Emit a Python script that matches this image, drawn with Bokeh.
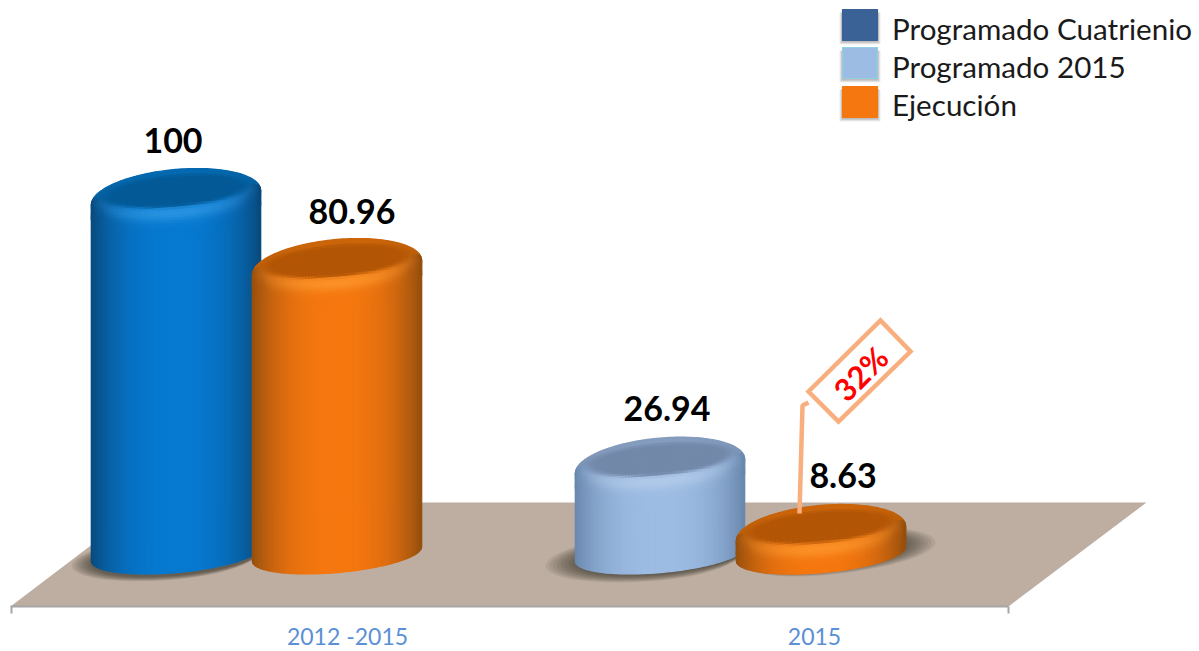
import math
from bokeh.plotting import figure
from bokeh.embed import file_html
from bokeh.resources import INLINE
from bokeh.core.properties import value
from bokeh.models import (Range1d, FixedTicker, LinearAxis, Legend, LegendItem,
                          ColumnDataSource)

# ---------- data ----------
categories = ["2012 -2015", "2015"]
series_names = ["Programado Cuatrienio", "Programado 2015", "Ejecución"]
programado_cuatrienio = [100, None]
programado_2015 = [None, 26.94]
ejecucion = [80.96, 8.63]
callout_text = "32%"

# ---------- layout (page pixels of the reference) ----------
FIG_W, FIG_H = 1199, 651
AXIS_PX = 606
Y0_PX, Y_SCALE = 564.7, 3.677      # value 0 and px per unit
GROUP0_PX, GROUP_STEP = 256.0, 484.0
SIDE_OFF = 80.5 / GROUP_STEP
HALF_W = 84.5
TILT = -0.085
TOP_B = 28.0
BASE_PX, BASE_B = 553.5, 18.5


def ux(px):
    return (px - GROUP0_PX) / GROUP_STEP


def px_x(u):
    return GROUP0_PX + u * GROUP_STEP


def uy(py):
    return (Y0_PX - py) / Y_SCALE


def px_y(v):
    return Y0_PX - v * Y_SCALE


p = figure(width=FIG_W, height=FIG_H, output_backend="svg", toolbar_location=None,
           x_range=Range1d(ux(0), ux(FIG_W)),
           y_range=Range1d(uy(AXIS_PX), uy(0)),
           x_axis_location=None, y_axis_location=None,
           frame_height=AXIS_PX, frame_width=FIG_W,
           min_border_left=0, min_border_right=0, min_border_top=0,
           min_border_bottom=FIG_H - AXIS_PX, outline_line_color=None)
p.grid.visible = False
p.background_fill_color = "white"

# ---------- axis ----------
axis = LinearAxis(
    ticker=FixedTicker(ticks=[ux(347), ux(814)], minor_ticks=[ux(11), ux(1008)]),
    major_label_overrides={ux(347): categories[0], ux(814): categories[1]},
    major_tick_line_color=None, major_tick_out=0, major_tick_in=0,
    minor_tick_line_color="#a6a6a6", minor_tick_line_width=2, minor_tick_out=7, minor_tick_in=0,
    axis_line_color="#a6a6a6", axis_line_width=2, bounds=(ux(10), ux(1008)),
    major_label_standoff=8,
    major_label_text_color="#5b8fd6",
    major_label_text_font="Lato", major_label_text_font_size="23px")
p.add_layout(axis, "below")

# ---------- floor ----------
p.patch([ux(10), ux(1008), ux(1146), ux(147)],
        [uy(606), uy(606), uy(502), uy(502)],
        fill_color="#bdaea1", line_color=None)


def hexmix(a, b, t):
    t = max(0.0, min(1.0, t))
    return tuple(a[i] + (b[i] - a[i]) * t for i in range(3))


def rgb(h):
    return tuple(int(h[i:i + 2], 16) for i in (1, 3, 5))


def tohex(c):
    return "#%02x%02x%02x" % tuple(int(round(v)) for v in c)


def sstep(a, b, x):
    t = max(0.0, min(1.0, (x - a) / (b - a)))
    return t * t * (3 - 2 * t)


PALETTES = {
    "blue": dict(center="#0679d0", edge="#0a4b7e", surface="#045a97", rim="#0566aa", hi="#3aa0ea"),
    "orange": dict(center="#f5770f", edge="#96500f", surface="#b35606", rim="#c46209", hi="#ff9f35"),
    "light": dict(center="#9dbce3", edge="#6a88ae", surface="#7389aa", rim="#8097b8", hi="#b9d0ec"),
}


def shade(pal, dx, x, y, cx, ytc):
    base = hexmix(pal["center"], pal["edge"], abs(dx) ** 2.6)
    ic = ytc - 6 + TILT * (x - cx)
    q = 16.0
    ai = 0.86
    inside = max(0.0, 1 - (dx / ai) ** 2)
    rho = math.sqrt((dx / ai) ** 2 + ((y - ic) / q) ** 2)
    if y > ic:
        d = y - (ic + q * math.sqrt(inside))
        h = math.exp(-((d - 6) / 8) ** 2) * max(0.0, 1 - dx * dx)
        c = hexmix(base, pal["hi"], 0.65 * h)
    else:
        c = hexmix(base, pal["rim"], 0.85)
    return hexmix(c, pal["surface"], 1 - sstep(0.85, 1.12, rho))


def cylinder(group, side, val, palname):
    pal = {k: rgb(v) for k, v in PALETTES[palname].items()}
    center_u = group + side * SIDE_OFF
    cx = px_x(center_u)
    ytc = px_y(val)
    n_col, n_cell = 84, 26
    xs, ys, cols = [], [], []

    def arcs(x):
        dx = max(-1.0, min(1.0, (x - cx) / HALF_W))
        s = math.sqrt(max(0.0, 1 - dx * dx))
        tilt = TILT * (x - cx)
        top_up = ytc + tilt - TOP_B * s
        top_lo = ytc + tilt + TOP_B * s
        bot = BASE_PX + tilt + BASE_B * s
        return top_up, min(top_lo + 14, bot), bot

    for i in range(n_col):
        x0 = cx - HALF_W * math.cos(math.pi * i / n_col)
        x1 = cx - HALF_W * math.cos(math.pi * (i + 1) / n_col)
        a0, b0, c0 = arcs(x0)
        a1, b1, c1 = arcs(x1)
        xm = (x0 + x1) / 2
        dxm = (xm - cx) / HALF_W
        for j in range(n_cell):
            f0, f1 = j / n_cell, (j + 1) / n_cell
            xs.append([ux(x0), ux(x1), ux(x1), ux(x0)])
            ys.append([uy(a0 + (b0 - a0) * f0), uy(a1 + (b1 - a1) * f0),
                       uy(a1 + (b1 - a1) * f1), uy(a0 + (b0 - a0) * f1)])
            ym = (a0 + a1) / 2 + ((b0 + b1 - a0 - a1) / 2) * (f0 + f1) / 2
            cols.append(tohex(shade(pal, dxm, xm, ym, cx, ytc)))
        xs.append([ux(x0), ux(x1), ux(x1), ux(x0)])
        ys.append([uy(b0), uy(b1), uy(c1), uy(c0)])
        cols.append(tohex(hexmix(pal["center"], pal["edge"], abs(dxm) ** 2.6)))
    p.patches(xs, ys, fill_color=cols, line_color=cols, line_width=1.4)


def shadow(group, side, left, right, dy, extra_b, alpha=0.08, layers=9):
    cx = px_x(group + side * SIDE_OFF)
    for k in range(layers):
        f = 1 - k / (layers - 1)
        xs, ys = [], []
        for i in range(48):
            t = 2 * math.pi * i / 48
            c = math.cos(t)
            a = HALF_W + (left if c < 0 else right) * f
            x = cx + a * c
            y = BASE_PX + dy + TILT * (x - cx) + (BASE_B + extra_b * f) * math.sin(t)
            xs.append(ux(x))
            ys.append(uy(y))
        p.patch(xs, ys, fill_color="#1a1410", fill_alpha=alpha, line_color=None)


# shadows on the floor
shadow(0, -1, 20, 0, 3, 4)
shadow(1, -1, 30, 0, 2, 6)
shadow(1, 1, 0, 30, -2, 5)

# bars, back to front
for g in range(len(categories)):
    if programado_cuatrienio[g] is not None:
        cylinder(g, -1, programado_cuatrienio[g], "blue")
    if programado_2015[g] is not None:
        cylinder(g, -1, programado_2015[g], "light")
    cylinder(g, 1, ejecucion[g], "orange")

# ---------- value labels ----------
label_vals = [programado_cuatrienio[0], ejecucion[0], programado_2015[1], ejecucion[1]]
label_sides = [(0, -1), (0, 1), (1, -1), (1, 1)]
LABEL_DX = [-3, 15, 7, 22]
LABEL_UP = [57, 56, 58, 58]
p.text(x=[g + s * SIDE_OFF + d / GROUP_STEP for (g, s), d in zip(label_sides, LABEL_DX)],
       y=[v + u / Y_SCALE for v, u in zip(label_vals, LABEL_UP)],
       text=[("%g" % v) for v in label_vals],
       text_font=value("Lato"), text_font_style="bold", text_font_size="34px",
       text_color="black", text_align="center", text_baseline="middle")

# ---------- callout ----------
CALL = "#f8ae7d"
p.line([ux(799), ux(802), ux(808)], [uy(513), uy(405), uy(402)], line_color=CALL, line_width=4.5)
p.patch([ux(808), ux(880), ux(910), ux(838)], [uy(391), uy(320), uy(351), uy(421)],
        fill_color="white", line_color=CALL, line_width=4.5, line_join="miter")
p.text(x=[ux(860)], y=[uy(373)], text=[callout_text], angle=math.pi / 4,
       text_font=value("Lato"), text_font_style="bold", text_font_size="31px",
       text_color="#ff0000", text_align="center", text_baseline="middle")

# ---------- legend ----------
SWATCH_TOPS = [9, 47, 86]
SWATCH_COLORS = ["#3b6297", "#9dbce3", "#f5770f"]
SWATCH_LINES = ["#3b6297", "#92d0e4", "#f5770f"]
for top, col, lc in zip(SWATCH_TOPS, SWATCH_COLORS, SWATCH_LINES):
    for grow, a in ((3, 0.10), (2, 0.15), (1, 0.2)):
        p.quad(left=[ux(842 - grow)], right=[ux(877 + grow)],
               top=[uy(top + 3)], bottom=[uy(top + 31 + grow + 1)],
               fill_color="#555555", fill_alpha=a, line_color=None)
    p.quad(left=[ux(842)], right=[ux(877)], top=[uy(top)], bottom=[uy(top + 31)],
           fill_color=col, line_color=lc, line_width=1.2)

nan = float("nan")
empty = ColumnDataSource(dict(left=[nan], right=[nan], top=[nan], bottom=[nan]))
key = p.quad(left="left", right="right", top="top", bottom="bottom", source=empty,
             fill_alpha=0, line_alpha=0)
legend = Legend(items=[LegendItem(label=n, renderers=[key]) for n in series_names],
                location=(842, AXIS_PX - 9 - 114),
                background_fill_alpha=0, border_line_color=None,
                glyph_width=35, glyph_height=38, spacing=0, padding=0, margin=0,
                label_standoff=15, label_text_font="Lato", label_text_font_size="29.6px",
                label_text_color="#1a1a1a", label_height=31)
p.add_layout(legend, "center")

open("out.html", "w").write(file_html(p, INLINE))
